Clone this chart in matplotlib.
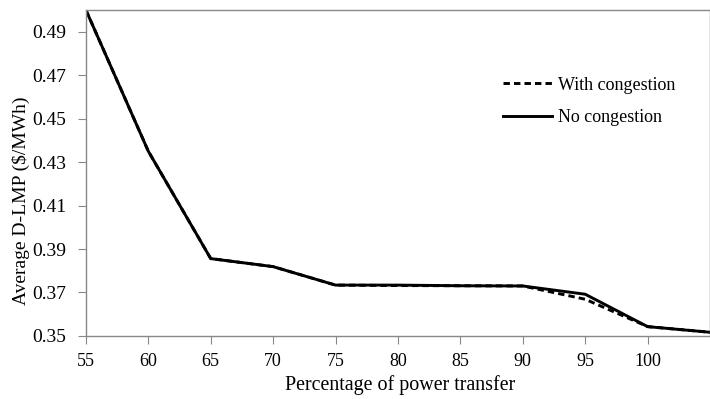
import matplotlib
matplotlib.use("Agg")
import matplotlib.pyplot as plt

x = [55, 60, 65, 70, 75, 80, 85, 90, 95, 100, 105]
with_cong = [0.500, 0.435, 0.3856, 0.3819, 0.3734, 0.3732, 0.3731, 0.3730, 0.3669, 0.3543, 0.3517]
no_cong = [0.500, 0.435, 0.3856, 0.3819, 0.3734, 0.3734, 0.3731, 0.3730, 0.3692, 0.3543, 0.3517]
xticks = [55, 60, 65, 70, 75, 80, 85, 90, 95, 100]
yticks = [0.35, 0.37, 0.39, 0.41, 0.43, 0.45, 0.47, 0.49]

plt.rcParams['font.family'] = ['Liberation Serif', 'DejaVu Serif']
fig = plt.figure(figsize=(7.1, 3.99), dpi=100)
ax = fig.add_axes([0.121, 0.158, 0.879, 0.817])
ax.plot(x, with_cong, color='black', lw=2.1, ls=(0, (2.2, 1.4)), label='With congestion')
ax.plot(x, no_cong, color='black', lw=2.1, label='No congestion')
ax.set_xlim(55, 105)
ax.set_ylim(0.35, 0.50)
ax.set_xticks(xticks)
ax.set_yticks(yticks)
ax.set_yticklabels([f"{v:.2f}" for v in yticks])
for s in ['left', 'bottom', 'top', 'right']:
    ax.spines[s].set_color('#888888')
    ax.spines[s].set_linewidth(1.0)
ax.tick_params(axis='both', colors='#888888', labelcolor='black', length=6, direction='out')
ax.tick_params(axis='x', labelsize=13, pad=6)
ax.tick_params(axis='y', labelsize=14, pad=8)
ax.set_xlabel('Percentage of power transfer', fontsize=14.4)
ax.xaxis.set_label_coords(0.503, -0.12)
ax.set_ylabel('Average D-LMP (\\$/MWh)', fontsize=14)
ax.yaxis.set_label_coords(-0.09, 0.414)
leg = ax.legend(loc='upper left', bbox_to_anchor=(0.643, 0.845), frameon=False, fontsize=13,
                handlelength=2.7, handletextpad=0.3, labelspacing=0.85)
fig.savefig('out.png', dpi=100)
